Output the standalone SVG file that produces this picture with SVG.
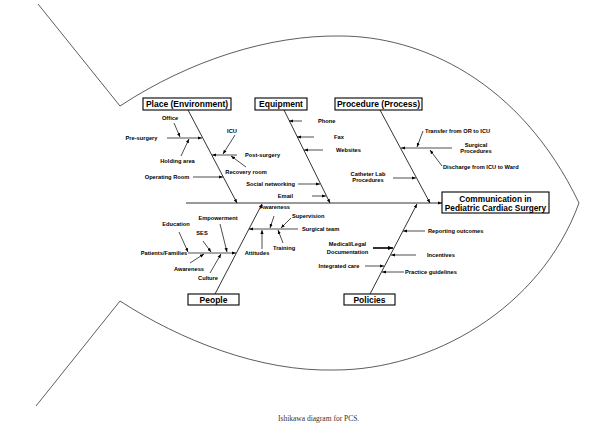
<svg xmlns="http://www.w3.org/2000/svg" width="590" height="429" viewBox="0 0 590 429">
<defs>
<marker id="ah" viewBox="0 0 10 10" refX="10" refY="5" markerWidth="4" markerHeight="4" markerUnits="userSpaceOnUse" orient="auto">
<path d="M0,1 L10,5 L0,9 Z" fill="#000"/>
</marker>
<marker id="ahb" viewBox="0 0 10 10" refX="10" refY="5" markerWidth="5" markerHeight="5" markerUnits="userSpaceOnUse" orient="auto">
<path d="M0,1 L10,5 L0,9 Z" fill="#000"/>
</marker>
</defs>
<style>
.fish{fill:none;stroke:#333;stroke-width:0.8}
.c line{stroke:#000;stroke-width:0.7;marker-end:url(#ah)}
.c line.plain{marker-end:none}
.c line.thick{stroke-width:1.6;marker-end:url(#ahb)}
.c line.bone{stroke-width:0.8}
.box{fill:#fff;stroke:#000;stroke-width:1.1}
.t{font-family:"Liberation Sans",Arial,sans-serif;font-weight:bold;font-size:8.5px;fill:#000;text-anchor:middle}
.h{font-family:"Liberation Sans",Arial,sans-serif;font-weight:bold;font-size:8.3px;fill:#000;text-anchor:middle}
.l{font-family:"Liberation Sans",Arial,sans-serif;font-weight:bold;font-size:5.7px;fill:#000}
.m{text-anchor:middle}
.e{text-anchor:end}
.cap{font-family:"Liberation Serif","Times New Roman",serif;font-size:7.5px;fill:#333}
</style>
<rect width="590" height="429" fill="#fff"/>
<g id="outline">
<path class="fish" d="M38,4 L120,106 C190,60 270,35 340,36 C420,36 520,80 579,203"/>
<path class="fish" d="M36,406 L120,301 C180,340 260,372 335,370 C430,370 540,310 579,203"/>
</g>
<g id="connectors" class="c">
<line class="bone" x1="186" y1="203" x2="442" y2="203"/>
<line class="bone" x1="188" y1="110" x2="237" y2="203"/>
<line class="bone" x1="284" y1="110" x2="330" y2="203"/>
<line class="bone" x1="380" y1="110" x2="430" y2="203"/>
<line class="bone" x1="215" y1="294" x2="262" y2="204"/>
<line class="bone" x1="370" y1="294" x2="417" y2="204"/>
<line x1="167" y1="138" x2="202" y2="138"/>
<line x1="174" y1="123" x2="180" y2="137"/>
<line x1="181" y1="156" x2="189" y2="139"/>
<line x1="237" y1="155" x2="212" y2="155"/>
<line x1="235" y1="135" x2="223" y2="154"/>
<line x1="246" y1="167" x2="231" y2="156"/>
<line x1="193" y1="177" x2="223" y2="177"/>
<line x1="302" y1="121" x2="289" y2="121"/>
<line x1="314" y1="137" x2="297" y2="137"/>
<line x1="323" y1="150" x2="304" y2="150"/>
<line x1="298" y1="184" x2="320" y2="184"/>
<line x1="312" y1="196" x2="326" y2="196"/>
<line x1="452" y1="148" x2="401" y2="148"/>
<line x1="423" y1="131" x2="417" y2="147"/>
<line x1="442" y1="166" x2="430" y2="150"/>
<line x1="393" y1="178" x2="416" y2="178"/>
<line x1="188" y1="253" x2="236" y2="253"/>
<line x1="179" y1="232" x2="188" y2="252"/>
<line x1="203" y1="241" x2="211" y2="252"/>
<line x1="220" y1="224" x2="227" y2="252"/>
<line x1="190" y1="263" x2="204" y2="254"/>
<line x1="210" y1="273" x2="221" y2="254"/>
<line x1="298" y1="229" x2="249" y2="229"/>
<line x1="274" y1="216" x2="270" y2="228"/>
<line x1="291" y1="218" x2="281" y2="228"/>
<line x1="283" y1="243" x2="278" y2="230"/>
<line x1="262" y1="249" x2="262" y2="230"/>
<line x1="425" y1="231" x2="403" y2="231"/>
<line class="thick" x1="373" y1="248" x2="393" y2="248"/>
<line x1="416" y1="255" x2="391" y2="255"/>
<line x1="365" y1="266" x2="384" y2="266"/>
<line x1="404" y1="272" x2="382" y2="272"/>
</g>
<g id="place">
<rect class="box" x="143" y="98" width="88" height="12"/>
<text class="t" x="187" y="107.3">Place (Environment)</text>
</g>
<g id="equipment">
<rect class="box" x="255" y="98" width="52" height="12"/>
<text class="t" x="281" y="107.3">Equipment</text>
</g>
<g id="procedure">
<rect class="box" x="335" y="98" width="87" height="12"/>
<text class="t" x="378.5" y="107.3">Procedure (Process)</text>
</g>
<g id="people">
<rect class="box" x="188" y="294" width="51" height="11"/>
<text class="t" x="213.5" y="302.8">People</text>
</g>
<g id="policies">
<rect class="box" x="344" y="294" width="51" height="11"/>
<text class="t" x="369.5" y="302.8">Policies</text>
</g>
<g id="effect">
<rect class="box" x="442" y="192" width="107" height="21"/>
<text class="h" x="495.5" y="201.5">Communication in</text>
<text class="h" x="495.5" y="210.5">Pediatric Cardiac Surgery</text>
</g>
<g id="labels">
<text class="l m" x="170" y="120">Office</text>
<text class="l m" x="141.5" y="140">Pre-surgery</text>
<text class="l m" x="177.5" y="163">Holding area</text>
<text class="l m" x="232" y="133">ICU</text>
<text class="l" x="245" y="157">Post-surgery</text>
<text class="l m" x="246" y="174">Recovery room</text>
<text class="l m" x="167" y="179">Operating Room</text>
<text class="l" x="318" y="123">Phone</text>
<text class="l" x="334" y="139">Fax</text>
<text class="l" x="336" y="152">Websites</text>
<text class="l e" x="295" y="186">Social networking</text>
<text class="l e" x="293" y="198">Email</text>
<text class="l" x="425" y="133">Transfer from OR to ICU</text>
<text class="l m" x="476" y="147">Surgical</text>
<text class="l m" x="476" y="153">Procedures</text>
<text class="l" x="443" y="169">Discharge from ICU to Ward</text>
<text class="l m" x="368" y="176">Catheter Lab</text>
<text class="l m" x="368" y="182">Procedures</text>
<text class="l m" x="176" y="226">Education</text>
<text class="l m" x="202" y="235">SES</text>
<text class="l m" x="218" y="220">Empowerment</text>
<text class="l m" x="164" y="255">Patients/Families</text>
<text class="l m" x="189" y="271">Awareness</text>
<text class="l m" x="208" y="280">Culture</text>
<text class="l m" x="275" y="209">Awareness</text>
<text class="l" x="292" y="218">Supervision</text>
<text class="l" x="302" y="231">Surgical team</text>
<text class="l" x="273" y="250">Training</text>
<text class="l m" x="257" y="255">Attitudes</text>
<text class="l" x="428" y="233">Reporting outcomes</text>
<text class="l m" x="347.5" y="246">Medical/Legal</text>
<text class="l m" x="347.5" y="254">Documentation</text>
<text class="l" x="427" y="257">Incentives</text>
<text class="l m" x="339" y="268">Integrated care</text>
<text class="l" x="405" y="274">Practice guidelines</text>
</g>
<text class="cap" x="278" y="421">Ishikawa diagram for PCS.</text>
</svg>
